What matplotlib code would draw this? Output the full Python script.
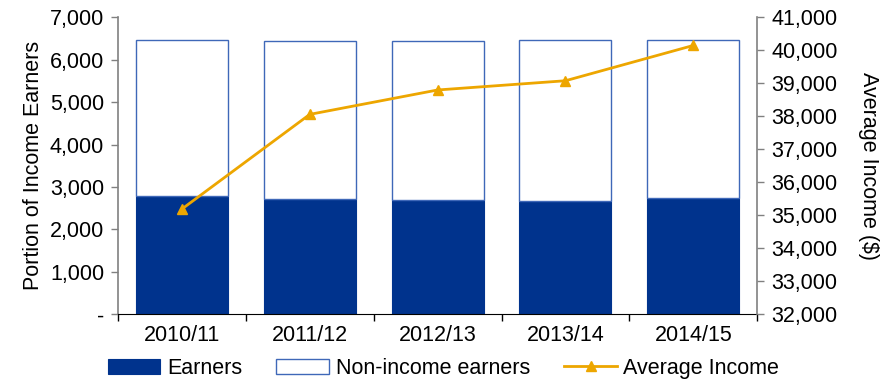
import numpy as np
import matplotlib.pyplot as plt
from matplotlib.ticker import FuncFormatter

plt.rcParams['font.family'] = ['Liberation Sans', 'DejaVu Sans']
plt.rcParams['font.size'] = 15.5

# Data
years = ["2010/11", "2011/12", "2012/13", "2013/14", "2014/15"]
earners = [2790, 2725, 2695, 2670, 2740]
total_people = [6475, 6455, 6435, 6465, 6470]
avg_income = [35190, 38060, 38800, 39080, 40150]

non_earners = [t - e for t, e in zip(total_people, earners)]

navy = "#00338D"
edge_blue = "#3F68B8"
gold = "#EDA600"

fig = plt.figure(figsize=(8.94, 3.79), dpi=100)
ax = fig.add_axes([0.132, 0.171, 0.715, 0.783])
x = np.arange(len(years))
w = 0.72

b1 = ax.bar(x, earners, w, color=navy, edgecolor=navy, linewidth=0.8, label="Earners")
b2 = ax.bar(x, non_earners, w, bottom=earners, color="white", edgecolor=edge_blue,
            linewidth=1.0, label="Non-income earners")

ax.set_xlim(-0.5, len(years) - 0.5)
ax.set_ylim(0, 7000)
ax.set_yticks(np.arange(0, 7001, 1000))
ax.yaxis.set_major_formatter(FuncFormatter(lambda v, p: "-" if v == 0 else f"{int(v):,}"))
ax.set_ylabel("Portion of Income Earners", labelpad=4)

# category labels centred, tick marks on the boundaries
ax.set_xticks(x)
ax.set_xticklabels(years)
ax.tick_params(axis="x", length=0, pad=8)
ax.set_xticks(np.arange(-0.5, len(years)), minor=True)
ax.tick_params(axis="x", which="minor", length=5, color="black", width=1)

ax.spines["top"].set_visible(False)
ax.spines["right"].set_visible(False)
ax.spines["left"].set_color("#808080")
ax.spines["left"].set_linewidth(1.2)
ax.spines["bottom"].set_color("black")
ax.tick_params(axis="y", length=5, color="#808080", width=1, pad=5)

ax2 = ax.twinx()
l1, = ax2.plot(x, avg_income, color=gold, lw=2, marker="^", markersize=7,
               label="Average Income")
ax2.set_ylim(32000, 41000)
ax2.set_yticks(np.arange(32000, 41001, 1000))
ax2.yaxis.set_major_formatter(FuncFormatter(lambda v, p: f"{int(v):,}"))
ax2.set_ylabel("Average Income ($)", rotation=270, labelpad=30)
for s in ["top", "left", "bottom"]:
    ax2.spines[s].set_visible(False)
ax2.spines["right"].set_color("#808080")
ax2.spines["right"].set_linewidth(1.2)
ax2.tick_params(axis="y", length=5, color="#808080", width=1, pad=5)

fig.legend([b1, b2, l1], ["Earners", "Non-income earners", "Average Income"],
           loc="lower center", bbox_to_anchor=(0.496, -0.05), ncol=3, frameon=False,
           handlelength=2.45, handletextpad=0.3, columnspacing=1.6, fontsize=15.5)

fig.savefig("out.png", dpi=100)
